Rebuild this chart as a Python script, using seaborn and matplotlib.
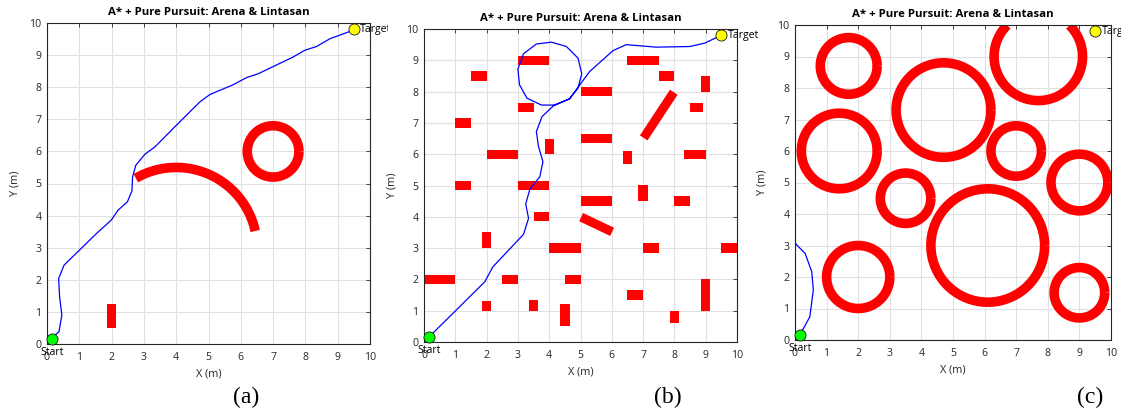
import numpy as np
import matplotlib
matplotlib.use("Agg")
import matplotlib.pyplot as plt
import seaborn as sns
from matplotlib.patches import Rectangle
from matplotlib.transforms import Bbox

# ---------------- data ----------------
TITLE = "A* + Pure Pursuit: Arena & Lintasan"
TICKS = list(range(0, 11))
START = (0.15, 0.15)
GOAL = (9.5, 9.8)

# Panel (a)
path_a_x = [0.15, 0.19, 0.37, 0.46, 0.39, 0.36, 0.53, 1.01, 1.53, 1.99, 2.20, 2.49, 2.63,
            2.65, 2.75, 3.03, 3.34, 4.01, 4.73, 5.04, 5.77, 6.18, 6.54, 7.62, 7.98, 8.35,
            8.76, 9.33, 9.50]
path_a_y = [0.15, 0.23, 0.38, 0.90, 1.47, 2.04, 2.46, 2.93, 3.44, 3.86, 4.17, 4.43, 4.77,
            5.21, 5.57, 5.91, 6.14, 6.82, 7.54, 7.77, 8.08, 8.30, 8.42, 8.94, 9.15, 9.27,
            9.51, 9.72, 9.80]
rect_a = [(1.85, 0.5, 0.3, 0.75)]                 # x0, y0, w, h
ring_a = [(7.0, 6.0, 0.8, 0, 360)]                 # cx, cy, r, start deg, end deg
arc_a = [(4.0, 3.0, 2.5, 12, 120)]

# Panel (b)
path_b_x = [0.15, 1.94, 2.20, 3.18, 3.34, 3.25, 3.38, 3.70, 3.80, 3.66, 3.59, 3.77, 4.14,
            4.65, 4.92, 5.04, 4.92, 4.55, 4.07, 3.59, 3.18, 3.00, 3.05, 3.29, 3.75, 4.17,
            4.65, 5.29, 6.04, 6.46, 7.42, 8.49, 8.97, 9.50]
path_b_y = [0.15, 1.92, 2.40, 3.44, 3.95, 4.41, 4.88, 5.28, 5.76, 6.24, 6.72, 7.20, 7.55,
            7.77, 8.11, 8.57, 9.07, 9.44, 9.58, 9.52, 9.21, 8.72, 8.22, 7.79, 7.57, 7.57,
            7.77, 8.64, 9.31, 9.50, 9.42, 9.44, 9.55, 9.80]
rect_b = [(3.0, 8.85, 1.0, 0.3), (6.5, 8.85, 1.0, 0.3), (1.5, 8.35, 0.5, 0.3),
          (7.5, 8.35, 0.5, 0.3), (8.85, 8.0, 0.3, 0.5), (5.0, 7.85, 1.0, 0.3),
          (3.0, 7.35, 0.5, 0.3), (8.5, 7.35, 0.4, 0.3), (1.0, 6.85, 0.5, 0.3),
          (5.0, 6.35, 1.0, 0.3), (3.85, 6.0, 0.3, 0.5), (2.0, 5.85, 1.0, 0.3),
          (6.35, 5.7, 0.3, 0.4), (8.3, 5.85, 0.7, 0.3), (1.0, 4.85, 0.5, 0.3),
          (3.0, 4.85, 1.0, 0.3), (6.85, 4.5, 0.3, 0.5), (5.0, 4.35, 1.0, 0.3),
          (8.0, 4.35, 0.5, 0.3), (3.5, 3.85, 0.5, 0.3), (1.85, 3.0, 0.3, 0.5),
          (4.0, 2.85, 1.0, 0.3), (7.0, 2.85, 0.5, 0.3), (9.5, 2.85, 0.5, 0.3),
          (0.0, 1.85, 1.0, 0.3), (2.5, 1.85, 0.5, 0.3), (4.5, 1.85, 0.5, 0.3),
          (8.85, 1.0, 0.3, 1.0), (6.5, 1.35, 0.5, 0.3), (1.85, 1.0, 0.3, 0.3),
          (3.35, 1.0, 0.3, 0.33), (4.35, 0.5, 0.3, 0.7), (7.85, 0.6, 0.3, 0.4)]
bar_b = [(7.02, 6.52, 7.98, 7.98), (5.02, 3.99, 6.01, 3.52)]   # x1, y1, x2, y2

# Panel (c)
path_c_x = [0.15, 0.47, 0.58, 0.53, 0.32, 0.05, 0.0, 0.0, 0.0]
path_c_y = [0.15, 0.74, 1.59, 2.17, 2.75, 3.02, 3.10, 3.75, 0.10]
ring_c = [(1.7, 8.7, 0.9, 0, 360), (4.7, 7.3, 1.5, 0, 360), (1.4, 6.0, 1.2, 0, 360),
          (7.0, 6.0, 0.8, 0, 360), (9.0, 5.0, 0.9, 0, 360), (3.5, 4.5, 0.8, 0, 360),
          (6.1, 3.0, 1.8, 0, 360), (2.0, 2.0, 1.0, 0, 360), (9.0, 1.5, 0.8, 0, 360),
          (7.7, 9.0, 1.4, 135, 405)]

# ---------------- style ----------------
sns.set_theme(style="white")
plt.rcParams['font.family'] = ['Open Sans', 'DejaVu Sans']

RED = "#ff0000"
BLUE = "#0000ff"
DARK = "#262626"
OBS_LW = 6.9

W, H = 1121, 416
fig = plt.figure(figsize=(W / 100, H / 100), dpi=100)

BOXES = {"a": (47, 370, 23, 344), "b": (424, 737, 29, 342), "c": (795, 1111, 25, 340)}


def add_ax(box):
    left, right, top, bottom = box
    return fig.add_axes([left / W, 1 - bottom / H, (right - left) / W, (bottom - top) / H])


def style(ax, box):
    l, r, t, b = box
    ax.set_xlim(0, 10)
    ax.set_ylim(0, 10)
    ax.set_xticks(TICKS)
    ax.set_yticks(TICKS)
    ax.grid(True, color="#e0e0e0", lw=0.8)
    ax.set_axisbelow(True)
    ax.tick_params(direction="in", top=True, right=True, length=3, width=0.6,
                   labelsize=7.6, labelcolor=DARK, color=DARK, pad=4)
    ax.tick_params(axis="x", pad=5.5)
    for s in ax.spines.values():
        s.set_color(DARK)
        s.set_linewidth(0.8)
        s.set_visible(True)
    ax.set_title(TITLE, fontsize=8.2, fontweight="bold", color="black", pad=6)
    ax.set_xlabel("X (m)", fontsize=7.8, color=DARK)
    ax.set_ylabel("Y (m)", fontsize=7.8, color=DARK)
    ax.yaxis.set_label_coords(-27 / (r - l), 0.5)
    ax.xaxis.set_label_coords(0.5, -25 / (b - t))


def draw_ring(ax, cx, cy, r, a0, a1):
    th = np.radians(np.linspace(a0, a1, 181))
    sns.lineplot(x=cx + r * np.cos(th), y=cy + r * np.sin(th), sort=False, estimator=None,
                 color=RED, lw=OBS_LW, solid_capstyle="butt", ax=ax, zorder=2)


def draw_path(ax, xs, ys, clip_right):
    sns.lineplot(x=xs, y=ys, sort=False, estimator=None, color=BLUE, lw=0.9, ax=ax, zorder=3)
    ax.plot([START[0]], [START[1]], "o", ms=8, mfc="#00ff00", mec="#1a1a1a", mew=0.6,
            zorder=5, clip_on=False)
    ax.plot([GOAL[0]], [GOAL[1]], "o", ms=8, mfc="#ffff00", mec="#1a1a1a", mew=0.6,
            zorder=5, clip_on=False)
    ax.text(START[0], START[1] - 0.42, "Start", ha="center", va="center", fontsize=7.6,
            color="black", clip_on=False, zorder=6)
    t = ax.text(GOAL[0] + 0.2, GOAL[1], "Target", ha="left", va="center", fontsize=7.6,
                color="black", zorder=6, clip_on=True)
    t.set_clip_path(None)
    t.set_clip_box(Bbox([[0, 0], [clip_right, H]]))


# (a)
ax_a = add_ax(BOXES["a"])
style(ax_a, BOXES["a"])
for (x0, y0, w, h) in rect_a:
    ax_a.add_patch(Rectangle((x0, y0), w, h, color=RED, lw=0, zorder=2))
for ring in ring_a + arc_a:
    draw_ring(ax_a, *ring)
draw_path(ax_a, path_a_x, path_a_y, 388)

# (b)
ax_b = add_ax(BOXES["b"])
style(ax_b, BOXES["b"])
for (x0, y0, w, h) in rect_b:
    ax_b.add_patch(Rectangle((x0, y0), w, h, color=RED, lw=0, zorder=2))
for (x1, y1, x2, y2) in bar_b:
    sns.lineplot(x=[x1, x2], y=[y1, y2], sort=False, estimator=None, color=RED,
                 lw=OBS_LW * 0.95, solid_capstyle="butt", ax=ax_b, zorder=2)
draw_path(ax_b, path_b_x, path_b_y, 760)

# (c)
ax_c = add_ax(BOXES["c"])
style(ax_c, BOXES["c"])
for ring in ring_c:
    draw_ring(ax_c, *ring)
draw_path(ax_c, path_c_x, path_c_y, W)

# captions
for label, xpix in [("(a)", 246), ("(b)", 668), ("(c)", 1090)]:
    fig.text(xpix / W, 1 - 397 / H, label, ha="center", va="center", fontsize=17,
             family="Liberation Serif", color="black")

fig.savefig("out.png", dpi=100)
